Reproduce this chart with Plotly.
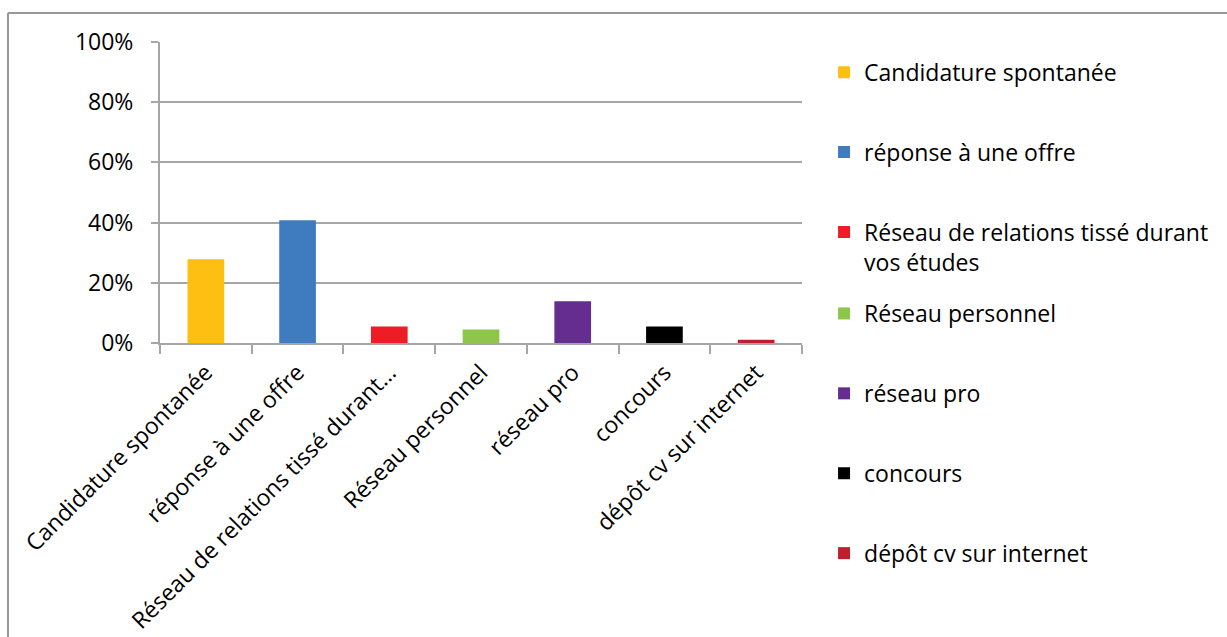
import plotly.graph_objects as go

# Categories and shares (fraction of respondents)
categories = [
    "Candidature spontanée",
    "réponse à une offre",
    "Réseau de relations tissé durant…",
    "Réseau personnel",
    "réseau pro",
    "concours",
    "dépôt cv sur internet",
]
legend_names = [
    "Candidature spontanée",
    "réponse à une offre",
    "Réseau de relations tissé durant<br>vos études",
    "Réseau personnel",
    "réseau pro",
    "concours",
    "dépôt cv sur internet",
]
values = [0.278, 0.408, 0.055, 0.045, 0.139, 0.055, 0.011]
colors = ["#FCBF12", "#3F7CBF", "#EE1C25", "#8EC649", "#662D91", "#000000", "#BE1E2D"]
legend_ids = ["legend", "legend", "legend", "legend2", "legend2", "legend2", "legend2"]

FONT = "Open Sans"
GRID = "#A6A6A6"

fig = go.Figure()
for i, (cat, name, val, col, lg) in enumerate(
    zip(categories, legend_names, values, colors, legend_ids)
):
    fig.add_trace(
        go.Bar(
            x=[cat],
            y=[val],
            name=name,
            width=0.40,
            marker=dict(color=col, line=dict(width=0)),
            legend=lg,
            legendgroup=f"g{i}",
            hovertemplate="%{x}: %{y:.0%}<extra></extra>",
        )
    )

legend_common = dict(
    font=dict(family=FONT, size=23, color="#000000"),
    traceorder="grouped",
    tracegroupgap=47,
    itemwidth=30,
    valign="top",
    bgcolor="rgba(0,0,0,0)",
    xref="container",
    yref="container",
    xanchor="left",
    yanchor="top",
)

fig.update_layout(
    width=1227,
    height=637,
    margin=dict(l=160, r=425, t=42, b=294, autoexpand=False),
    paper_bgcolor="white",
    plot_bgcolor="white",
    barmode="overlay",
    font=dict(family=FONT, size=23, color="#000000"),
    showlegend=True,
    legend=dict(x=0.6716, y=0.9203, **legend_common),
    legend2=dict(x=0.6716, y=0.5416, **legend_common),
    xaxis=dict(
        type="category",
        automargin=False,
        showline=True,
        linecolor=GRID,
        linewidth=2,
        ticks="outside",
        tickson="boundaries",
        ticklen=9,
        tickwidth=2,
        tickcolor=GRID,
        tickangle=-45,
        showgrid=False,
        ticklabelstandoff=5,
        tickfont=dict(family=FONT, size=23, color="#000000"),
    ),
    yaxis=dict(
        range=[0, 1],
        dtick=0.2,
        tickformat=".0%",
        automargin=False,
        showline=True,
        linecolor=GRID,
        linewidth=2,
        ticks="outside",
        ticklen=7,
        tickwidth=2,
        tickcolor=GRID,
        showgrid=True,
        gridcolor=GRID,
        gridwidth=2,
        zeroline=False,
        ticklabelstandoff=13,
        tickfont=dict(family=FONT, size=23, color="#000000"),
    ),
    shapes=[
        # outer chart frame (top and left edges visible)
        dict(type="line", xref="paper", yref="paper",
             x0=-0.2368, x1=1.70, y0=1.0963, y1=1.0963,
             line=dict(color="#999999", width=2)),
        dict(type="line", xref="paper", yref="paper",
             x0=-0.2368, x1=-0.2368, y0=1.0963, y1=-1.1,
             line=dict(color="#999999", width=2)),
    ],
)

fig.write_html("out.html")
